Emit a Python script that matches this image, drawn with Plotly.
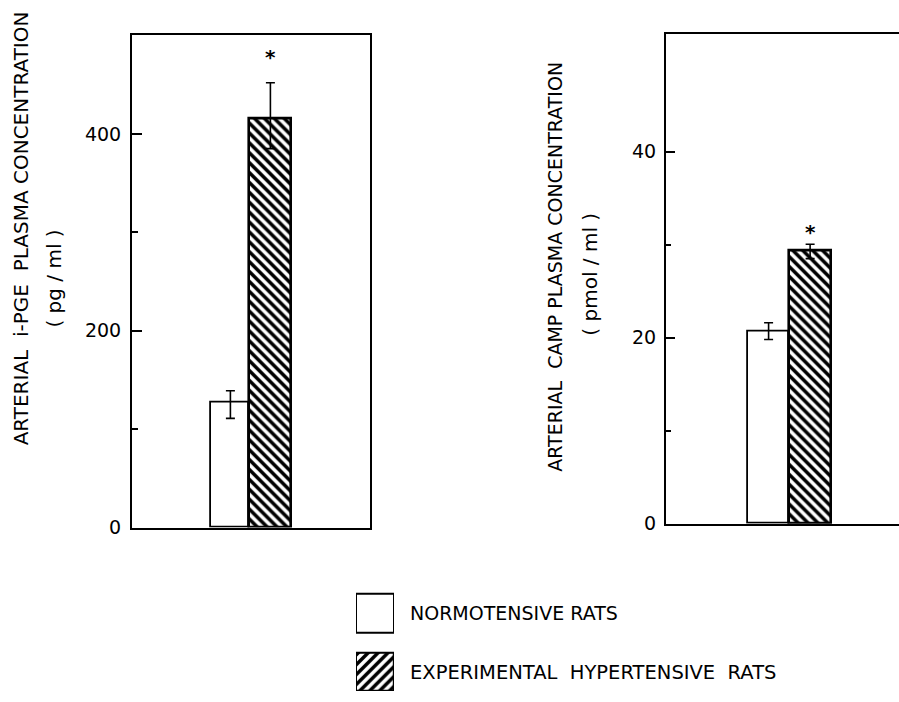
import plotly.graph_objects as go

# ---- data ----
groups = ["NORMOTENSIVE RATS", "EXPERIMENTAL HYPERTENSIVE RATS"]
cats = ["N", "H"]
pge_mean = [127, 416]
pge_err_plus = [12, 36]
pge_err_minus = [16, 31]
camp_mean = [20.7, 29.4]
camp_err_plus = [0.9, 0.65]
camp_err_minus = [0.9, 0.9]
pge_ticks = [0, 200, 400]
pge_minor = [100, 300]
camp_ticks = [0, 20, 40]
camp_minor = [10, 30]

W, H = 899, 702
FONT = "DejaVu Sans"

def px_x(p):
    return p / W

def px_y(p):
    return 1 - p / H

fig = go.Figure()

HATCH = dict(fgcolor="black", bgcolor="white", fgopacity=1, size=7, solidity=0.5)

def add_panel(means, ep, em, xa, ya, w0, w1):
    fig.add_trace(go.Bar(
        x=[cats[0]], y=[means[0]], xaxis=xa, yaxis=ya, width=w0,
        offset=-w0 / 2,
        marker=dict(color="white", line=dict(color="black", width=1.8)),
        error_y=dict(type="data", array=[ep[0]], arrayminus=[em[0]],
                     color="black", thickness=1.6, width=4.5),
        showlegend=False, name=groups[0]))
    fig.add_trace(go.Bar(
        x=[cats[1]], y=[means[1]], xaxis=xa, yaxis=ya, width=w1,
        marker=dict(color="white", line=dict(color="black", width=2.6),
                    pattern=dict(shape="\\", **HATCH)),
        error_y=dict(type="data", array=[ep[1]], arrayminus=[em[1]],
                     color="black", thickness=1.6, width=4.5),
        showlegend=False, name=groups[1]))

add_panel(pge_mean, pge_err_plus, pge_err_minus, "x", "y", 0.95, 1.05)
add_panel(camp_mean, camp_err_plus, camp_err_minus, "x2", "y2", 0.99, 1.0)

# legend swatches (own small axis)
fig.add_trace(go.Bar(
    y=["H"], x=[1], orientation="h", xaxis="x3", yaxis="y3", width=0.655,
    marker=dict(color="white", line=dict(color="black", width=2.2),
                pattern=dict(shape="/", **HATCH)),
    showlegend=False, hoverinfo="skip"))
fig.add_trace(go.Bar(
    y=["N"], x=[1], orientation="h", xaxis="x3", yaxis="y3", width=0.672,
    marker=dict(color="white", line=dict(color="black", width=2)),
    showlegend=False, hoverinfo="skip"))

axis_common = dict(showline=True, linecolor="black", linewidth=2,
                   showgrid=False, zeroline=False)

fig.update_layout(
    width=W, height=H,
    margin=dict(l=0, r=0, t=0, b=0),
    paper_bgcolor="white", plot_bgcolor="white",
    font=dict(family=FONT, color="black", size=19),
    bargap=0,
    xaxis=dict(domain=[px_x(132), px_x(370)], range=[-2.46, 3.49], anchor="y",
               showticklabels=False, ticks="", mirror=True,
               categoryorder="array", categoryarray=cats, **axis_common),
    yaxis=dict(domain=[px_y(536), px_y(36)], range=[0, 500], anchor="x",
               tickvals=pge_ticks, ticks="inside", ticklen=10, tickwidth=2,
               tickcolor="black", mirror=True, ticklabelstandoff=5,
               tickfont=dict(size=19, family=FONT),
               minor=dict(tickvals=pge_minor, ticks="inside", ticklen=6,
                          tickwidth=1.5, tickcolor="black"),
               **axis_common),
    xaxis2=dict(domain=[px_x(666), 1.0], range=[-2.47, 3.14], anchor="y2",
                showticklabels=False, ticks="", mirror=True,
                categoryorder="array", categoryarray=cats, **axis_common),
    yaxis2=dict(domain=[px_y(532), px_y(35)], range=[0, 52.6], anchor="x2",
                tickvals=camp_ticks, ticks="inside", ticklen=9, tickwidth=2,
                tickcolor="black", mirror=False, ticklabelstandoff=4,
                tickfont=dict(size=19, family=FONT),
                minor=dict(tickvals=camp_minor, ticks="inside", ticklen=5,
                           tickwidth=1.5, tickcolor="black"),
                **axis_common),
    xaxis3=dict(domain=[px_x(356), px_x(394)], range=[0, 1], anchor="y3",
                visible=False, fixedrange=True),
    yaxis3=dict(domain=[0, px_y(585)], range=[-0.328, 1.638], anchor="x3",
                visible=False, categoryorder="array", categoryarray=["H", "N"],
                fixedrange=True),
)

annos = [
    # axis titles
    dict(text="ARTERIAL  i-PGE  PLASMA CONCENTRATION", x=px_x(21), y=px_y(232),
         textangle=-90, size=20),
    dict(text="( pg / ml )", x=px_x(54), y=px_y(283), textangle=-90, size=20),
    dict(text="ARTERIAL  CAMP PLASMA CONCENTRATION", x=px_x(555), y=px_y(271),
         textangle=-90, size=19),
    dict(text="( pmol / ml )", x=px_x(590), y=px_y(279), textangle=-90, size=20),
    # legend texts
    dict(text=groups[0], x=px_x(408), y=px_y(623), xanchor="left", size=19),
    dict(text=groups[1].replace(" ", "  "), x=px_x(408), y=px_y(683),
         xanchor="left", size=19.5),
]
for a in annos:
    s = a.pop("size")
    a.update(xref="paper", yref="paper", showarrow=False, font=dict(size=s))
    a.setdefault("xanchor", "center")
    a.setdefault("yanchor", "middle")
    fig.add_annotation(**a)

# significance asterisks above the hypertensive error bars
fig.add_annotation(text="<b>*</b>", x=cats[1], y=pge_mean[1] + pge_err_plus[1],
                   xref="x", yref="y", showarrow=False, yshift=26,
                   font=dict(size=20))
fig.add_annotation(text="<b>*</b>", x=cats[1], y=camp_mean[1] + camp_err_plus[1],
                   xref="x2", yref="y2", showarrow=False, yshift=12,
                   font=dict(size=20))

# remove the default 8px page margin so the figure fills the window exactly
fig.write_html("out.html",
               config={"displayModeBar": False},
               post_script="document.body.style.margin='0';"
                           "document.body.style.overflow='hidden';")
